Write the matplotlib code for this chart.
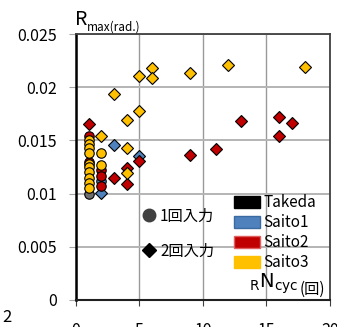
import matplotlib
matplotlib.use("Agg")
import matplotlib.pyplot as plt
from matplotlib.lines import Line2D
from matplotlib.patches import Patch

plt.rcParams['font.family'] = ['Noto Sans CJK JP', 'DejaVu Sans']

# data: (N cycles, R max)
takeda_c_x = [1]
takeda_c_y = [0.0100]

saito1_c_x = [2]
saito1_c_y = [0.0112]
saito1_d_x = [2, 3, 5]
saito1_d_y = [0.0101, 0.0146, 0.0135]

saito2_c_x = [1, 1, 2, 2, 2]
saito2_c_y = [0.0154, 0.0130, 0.0122, 0.0117, 0.0107]
saito2_d_x = [1, 3, 4, 4, 5, 9, 11, 13, 16, 16, 17]
saito2_d_y = [0.0165, 0.0115, 0.0124, 0.0109, 0.0131, 0.0136, 0.0142,
              0.0168, 0.0172, 0.0154, 0.0166]

saito3_c_x = [1, 1, 1, 1, 1, 1, 1, 1, 1, 1, 2, 2]
saito3_c_y = [0.0150, 0.0147, 0.0143, 0.0138, 0.0128, 0.0125, 0.0120,
              0.0115, 0.0110, 0.0105, 0.0138, 0.0127]
saito3_d_x = [2, 3, 4, 4, 4, 5, 5, 6, 6, 9, 12, 18]
saito3_d_y = [0.0154, 0.0194, 0.0169, 0.0143, 0.0119, 0.0211, 0.0178,
              0.0218, 0.0209, 0.0213, 0.0221, 0.0219]

series = ["Takeda", "Saito1", "Saito2", "Saito3"]
colors = ["#000000", "#4f81bd", "#c00000", "#ffc000"]

x_ticks = [0, 5, 10, 15, 20]
y_ticks = [0, 0.005, 0.01, 0.015, 0.02, 0.025]
y_labels = ["0", "0.005", "0.01", "0.015", "0.02", "0.025"]

fig = plt.figure(figsize=(3.37, 3.27), dpi=100)
ax = fig.add_axes([0.2255, 0.0826, 0.7535, 0.8134])

ax.set_xlim(0, 20)
ax.set_ylim(0, 0.025)
ax.set_xticks(x_ticks)
ax.set_yticks(y_ticks)
ax.set_yticklabels(y_labels)

# gridlines first so the points sit on top
ax.grid(True, axis="y", color="#b4b4b4", linewidth=1.4, zorder=0)
ax.grid(True, axis="x", color="#9a9a9a", linewidth=1.0, zorder=0)
ax.set_axisbelow(True)

ms = 6.8
kw = dict(linestyle="none", markeredgecolor="black", markeredgewidth=0.8, zorder=3)
ax.plot(takeda_c_x, takeda_c_y, marker="o", markersize=ms, markerfacecolor="#6e6e6e", **kw)
ax.plot(saito1_c_x, saito1_c_y, marker="o", markersize=ms, markerfacecolor=colors[1], **kw)
ax.plot(saito1_d_x, saito1_d_y, marker="D", markersize=ms - 1, markerfacecolor=colors[1], **kw)
ax.plot(saito2_c_x, saito2_c_y, marker="o", markersize=ms, markerfacecolor=colors[2], **kw)
ax.plot(saito2_d_x, saito2_d_y, marker="D", markersize=ms - 1, markerfacecolor=colors[2], **kw)
ax.plot(saito3_c_x, saito3_c_y, marker="o", markersize=ms, markerfacecolor=colors[3], **kw)
ax.plot(saito3_d_x, saito3_d_y, marker="D", markersize=ms - 1, markerfacecolor=colors[3], **kw)

ax.tick_params(axis="both", labelsize=11.5)
ax.tick_params(axis="y", direction="out", length=5, color="#a6a6a6", pad=9)
ax.tick_params(axis="x", direction="out", length=4, color="#404040", pad=12)

ax.spines["left"].set_linewidth(1.8)
ax.spines["left"].set_color("black")
ax.spines["bottom"].set_linewidth(1.5)
ax.spines["bottom"].set_color("#202020")
ax.spines["top"].set_color("#404040")
ax.spines["top"].set_linewidth(1.3)
ax.spines["right"].set_color("#404040")
ax.spines["right"].set_linewidth(1.3)

# marker-shape legend
shape_handles = [
    Line2D([], [], linestyle="none", marker="o", markersize=9,
           markerfacecolor="#404040", markeredgecolor="#404040"),
    Line2D([], [], linestyle="none", marker="D", markersize=7.5,
           markerfacecolor="black", markeredgecolor="black"),
]
leg1 = ax.legend(shape_handles, ["1回入力", "2回入力"], loc="upper left",
                 bbox_to_anchor=(0.256, 0.348), frameon=False, fontsize=11,
                 handlelength=1.0, handletextpad=0.25, labelspacing=1.2,
                 borderpad=0, borderaxespad=0)
ax.add_artist(leg1)

# colour legend
color_handles = [
    Patch(facecolor=colors[0], edgecolor=colors[0]),
    Patch(facecolor=colors[1], edgecolor="#3a6aa0"),
    Patch(facecolor=colors[2], edgecolor="#e06060"),
    Patch(facecolor=colors[3], edgecolor=colors[3]),
]
ax.legend(color_handles, series, loc="upper left", bbox_to_anchor=(0.622, 0.398),
          frameon=False, fontsize=11, handlelength=1.7, handleheight=0.9,
          handletextpad=0.25, labelspacing=0.2, borderpad=0, borderaxespad=0)

# axis labels
paren = ax.text(0.98, 0.025, "(回)", transform=ax.transAxes, ha="right",
                va="baseline", fontsize=11)
ax.annotate(r"$_{\mathrm{R}}\mathrm{N}_{\mathrm{cyc}}$", xy=(0, 0), xycoords=paren,
            xytext=(-1, 1), textcoords="offset points", ha="right", va="bottom",
            fontsize=14, family="DejaVu Sans")

r_txt = fig.text(0.222, 0.925, "R", fontsize=14, ha="left", va="baseline")
ax.annotate("max(rad.)", xy=(1, 0), xycoords=r_txt, xytext=(0, -3),
            textcoords="offset points", ha="left", va="bottom", fontsize=8.5,
            annotation_clip=False)

fig.text(0.008, 0.015, "2", fontsize=12)

fig.savefig("out.png", dpi=100)
